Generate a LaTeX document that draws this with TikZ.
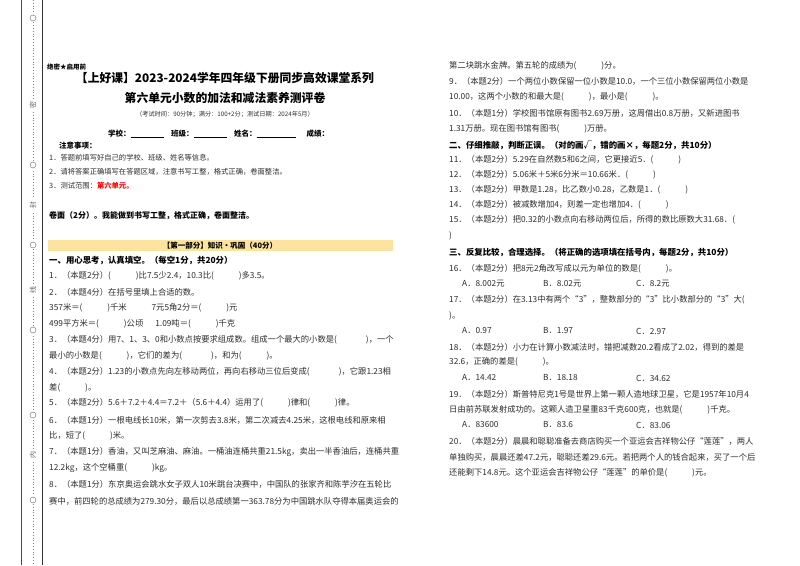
\documentclass[tikz,border=0pt]{standalone}
\usepackage{fontspec}
\setmainfont{Noto Sans CJK SC}
\definecolor{txtc}{RGB}{45,45,45}
\definecolor{barc}{RGB}{252,228,160}
\newcommand\tl[3]{\node[txt] at (#1,#2) {#3};}
\newcommand\bl[1]{(\hspace{#1em}}
\begin{document}
\begin{tikzpicture}[x=1pt,y=-1pt,
  txt/.style={anchor=west,inner sep=0pt,font=\fontsize{8.3}{9}\selectfont,text=txtc},
  bld/.style={txt,font=\fontsize{8.4}{9}\selectfont\bfseries,text=black},
  ttl/.style={inner sep=0pt,font=\fontsize{11.8}{12}\selectfont\bfseries,text=black}]
\useasboundingbox (0,0) rectangle (800,565);
\fill[white] (0,0) rectangle (800,565);
% binding margin
\draw[black!70,line width=0.5pt] (21,0) -- (21,565);
\draw[black!80,line width=0.7pt] (42,0) -- (42,565);
\draw[black!50,dotted,line width=0.8pt] (33,0) -- (33,565);
\foreach \yy in {18,165,245,330,415,500}{\fill[white] (33,\yy) circle (4);\draw[black!60] (33,\yy) circle (3);}
\foreach \yy/\cc in {105/密,205/封,290/线,455/内}{\fill[white] (28,\yy-6) rectangle (38,\yy+6);\node[rotate=90,inner sep=0pt,font=\fontsize{7}{7}\selectfont,text=black!60] at (33,\yy) {\cc};}
% header
\node[bld,font=\fontsize{6.5}{7}\selectfont\bfseries] at (47,67) {绝密★启用前};
\node[ttl] at (225,78) {【上好课】2023-2024学年四年级下册同步高效课堂系列};
\node[ttl] at (225,98) {第六单元小数的加法和减法素养测评卷};
\node[inner sep=0pt,font=\fontsize{6.2}{6}\selectfont,text=txtc] at (225,114) {（考试时间：90分钟；满分：100+2分；测试日期：2024年5月）};
\node[bld,font=\fontsize{7.5}{7}\selectfont\bfseries] at (108,134) {学校：\underline{\hspace{4.4em}}\quad 班级：\underline{\hspace{4.4em}}\quad 姓名：\underline{\hspace{5.2em}}\quad\ \ 成绩：};
\node[bld,font=\fontsize{7.5}{7}\selectfont\bfseries] at (59,146) {注意事项：};
\node[txt,font=\fontsize{7.3}{7}\selectfont] at (49,158) {1．答题前填写好自己的学校、班级、姓名等信息。};
\node[txt,font=\fontsize{7.3}{7}\selectfont] at (49,172) {2．请将答案正确填写在答题区域，注意书写工整，格式正确，卷面整洁。};
\node[txt,font=\fontsize{7.3}{7}\selectfont] at (49,186) {3．测试范围：\textcolor{red}{\bfseries 第六单元。}};
\node[bld,font=\fontsize{8}{8}\selectfont\bfseries] at (49,216) {卷面（2分）。我能做到书写工整，格式正确，卷面整洁。};
\fill[barc] (48,240) rectangle (393,251);
\node[inner sep=0pt,font=\fontsize{7.5}{7}\selectfont\bfseries] at (220,245.5) {【第一部分】知识·巩固（40分）};
% left column
\node[bld] at (49,261) {一、用心思考，认真填空。（每空1分，共20分）};
\tl{49}{276}{1．（本题2分）\bl{3})比7.5少2.4，10.3比\bl{3})多3.5。}
\tl{49}{292}{2．（本题4分）在括号里填上合适的数。}
\tl{49}{308}{357米＝\bl{3})千米\qquad\quad 7元5角2分＝\bl{3})元}
\tl{49}{324}{499平方米＝\bl{3})公顷\quad\ \ 1.09吨＝\bl{3})千克}
\tl{49}{340}{3．（本题4分）用7、1、3、0和小数点按要求组成数。组成一个最大的小数是\bl{3.5})，一个}
\tl{49}{356}{最小的小数是\bl{3})，它们的差为\bl{3.5})，和为\bl{3})。}
\tl{49}{372}{4．（本题2分）1.23的小数点先向左移动两位，再向右移动三位后变成\bl{3.5})，它跟1.23相}
\tl{49}{388}{差\bl{3})。}
\tl{49}{403}{5．（本题2分）5.6＋7.2＋4.4＝7.2＋（5.6＋4.4）运用了\bl{3})律和\bl{3})律。}
\tl{49}{420}{6．（本题1分）一根电线长10米，第一次剪去3.8米，第二次减去4.25米，这根电线和原来相}
\tl{49}{436}{比，短了\bl{3})米。}
\tl{49}{452}{7．（本题1分）香油，又叫芝麻油、麻油。一桶油连桶共重21.5kg，卖出一半香油后，连桶共重}
\tl{49}{468}{12.2kg，这个空桶重\bl{3})kg。}
\tl{49}{484}{8．（本题1分）东京奥运会跳水女子双人10米跳台决赛中，中国队的张家齐和陈芋汐在五轮比}
\tl{49}{501}{赛中，前四轮的总成绩为279.30分，最后以总成绩第一363.78分为中国跳水队夺得本届奥运会的}
% right column
\tl{449}{66}{第二块跳水金牌。第五轮的成绩为\bl{3})分。}
\tl{449}{81}{9．（本题2分）一个两位小数保留一位小数是10.0，一个三位小数保留两位小数是}
\tl{449}{97}{10.00，这两个小数的和最大是\bl{3})，最小是\bl{3})。}
\tl{449}{113}{10．（本题1分）学校图书馆原有图书2.69万册，这周借出0.8万册，又新进图书}
\tl{449}{129}{1.31万册。现在图书馆有图书\bl{3})万册。}
\node[bld] at (449,145) {二、仔细推敲，判断正误。（对的画√，错的画×，每题2分，共10分）};
\tl{449}{160}{11．（本题2分）5.29在自然数5和6之间，它更接近5．\bl{3})}
\tl{449}{175}{12．（本题2分）5.06米＋5米6分米＝10.66米．\bl{3})}
\tl{449}{190}{13．（本题2分）甲数是1.28，比乙数小0.28，乙数是1．\bl{3})}
\tl{449}{205}{14．（本题2分）被减数增加4，则差一定也增加4．\bl{3})}
\tl{449}{220}{15．（本题2分）把0.32的小数点向右移动两位后，所得的数比原数大31.68．(}
\tl{449}{236}{)}
\node[bld] at (449,253) {三、反复比较，合理选择。（将正确的选项填在括号内，每题2分，共10分）};
\tl{449}{269}{16．（本题2分）把8元2角改写成以元为单位的数是\bl{3})。}
\tl{462}{284}{A．8.002元}\tl{543}{284}{B．8.02元}\tl{636}{284}{C．8.2元}
\tl{449}{300}{17．（本题2分）在3.13中有两个“3”，整数部分的“3”比小数部分的“3”大(}
\tl{449}{316}{)。}
\tl{462}{331}{A．0.97}\tl{543}{331}{B．1.97}\tl{636}{331}{C．2.97}
\tl{449}{347}{18．（本题2分）小力在计算小数减法时，错把减数20.2看成了2.02，得到的差是}
\tl{449}{362}{32.6，正确的差是\bl{3})。}
\tl{462}{378}{A．14.42}\tl{543}{378}{B．18.18}\tl{636}{378}{C．34.62}
\tl{449}{394}{19．（本题2分）斯普特尼克1号是世界上第一颗人造地球卫星，它是1957年10月4}
\tl{449}{410}{日由前苏联发射成功的。这颗人造卫星重83千克600克，也就是\bl{3})千克。}
\tl{462}{425}{A．83600}\tl{543}{425}{B．83.6}\tl{636}{425}{C．83.06}
\tl{449}{441}{20．（本题2分）晨晨和聪聪准备去商店购买一个亚运会吉祥物公仔“莲莲”，两人}
\tl{449}{457}{单独购买，晨晨还差47.2元，聪聪还差29.6元。若把两个人的钱合起来，买了一个后}
\tl{449}{473}{还能剩下14.8元。这个亚运会吉祥物公仔“莲莲”的单价是\bl{3})元。}
\end{tikzpicture}
\end{document}
